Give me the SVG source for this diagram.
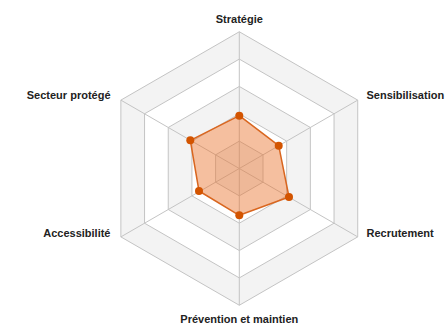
<svg xmlns="http://www.w3.org/2000/svg" width="446" height="325" viewBox="0 0 446 325">
<style>
.band-g{fill:#f3f3f3;stroke:#c4c4c4;stroke-width:1}
.band-w{fill:#ffffff;stroke:#c4c4c4;stroke-width:1}
.axis{stroke:#c4c4c4;stroke-width:1}
.lbl{font-family:"Liberation Sans",Arial,sans-serif;font-size:11px;font-weight:bold;fill:#222}
.pt{fill:#d35400}
</style>
<rect width="446" height="325" fill="#ffffff"/>
<g id="grid">
<polygon class="band-g" points="239.3,31.75 357.73,100.12 357.73,236.88 239.3,305.25 120.87,236.88 120.87,100.12"/>
<polygon class="band-w" points="239.3,59.1 334.04,113.8 334.04,223.2 239.3,277.9 144.56,223.2 144.56,113.8"/>
<polygon class="band-g" points="239.3,86.45 310.36,127.47 310.36,209.53 239.3,250.55 168.24,209.53 168.24,127.47"/>
<polygon class="band-w" points="239.3,113.8 286.67,141.15 286.67,195.85 239.3,223.2 191.93,195.85 191.93,141.15"/>
<polygon class="band-g" points="239.3,141.15 262.99,154.82 262.99,182.18 239.3,195.85 215.61,182.18 215.61,154.82"/>
</g>
<g id="connectors">
<line class="axis" x1="239.3" y1="168.5" x2="239.3" y2="31.75"/>
<line class="axis" x1="239.3" y1="168.5" x2="357.73" y2="100.12"/>
<line class="axis" x1="239.3" y1="168.5" x2="357.73" y2="236.88"/>
<line class="axis" x1="239.3" y1="168.5" x2="239.3" y2="305.25"/>
<line class="axis" x1="239.3" y1="168.5" x2="120.87" y2="236.88"/>
<line class="axis" x1="239.3" y1="168.5" x2="120.87" y2="100.12"/>
</g>
<g id="series">
<polygon points="239.3,115.7 278.7,145.7 289,197 239.3,215.3 199,191 190.3,140.3" fill="#e8702a" fill-opacity="0.45" stroke="#d9661f" stroke-width="1.5" stroke-linejoin="round"/>
<circle class="pt" cx="239.3" cy="115.7" r="4"/>
<circle class="pt" cx="278.7" cy="145.7" r="4"/>
<circle class="pt" cx="289" cy="197" r="4"/>
<circle class="pt" cx="239.3" cy="215.3" r="4"/>
<circle class="pt" cx="199" cy="191" r="4"/>
<circle class="pt" cx="190.3" cy="140.3" r="4"/>
</g>
<g id="node-strategie"><text class="lbl" x="239.3" y="23" text-anchor="middle">Stratégie</text></g>
<g id="node-sensibilisation"><text class="lbl" x="366.5" y="99">Sensibilisation</text></g>
<g id="node-recrutement"><text class="lbl" x="366.5" y="237">Recrutement</text></g>
<g id="node-prevention"><text class="lbl" x="239.3" y="323" text-anchor="middle">Prévention et maintien</text></g>
<g id="node-accessibilite"><text class="lbl" x="110.5" y="237" text-anchor="end">Accessibilité</text></g>
<g id="node-secteur"><text class="lbl" x="110.5" y="99" text-anchor="end">Secteur protégé</text></g>
</svg>
